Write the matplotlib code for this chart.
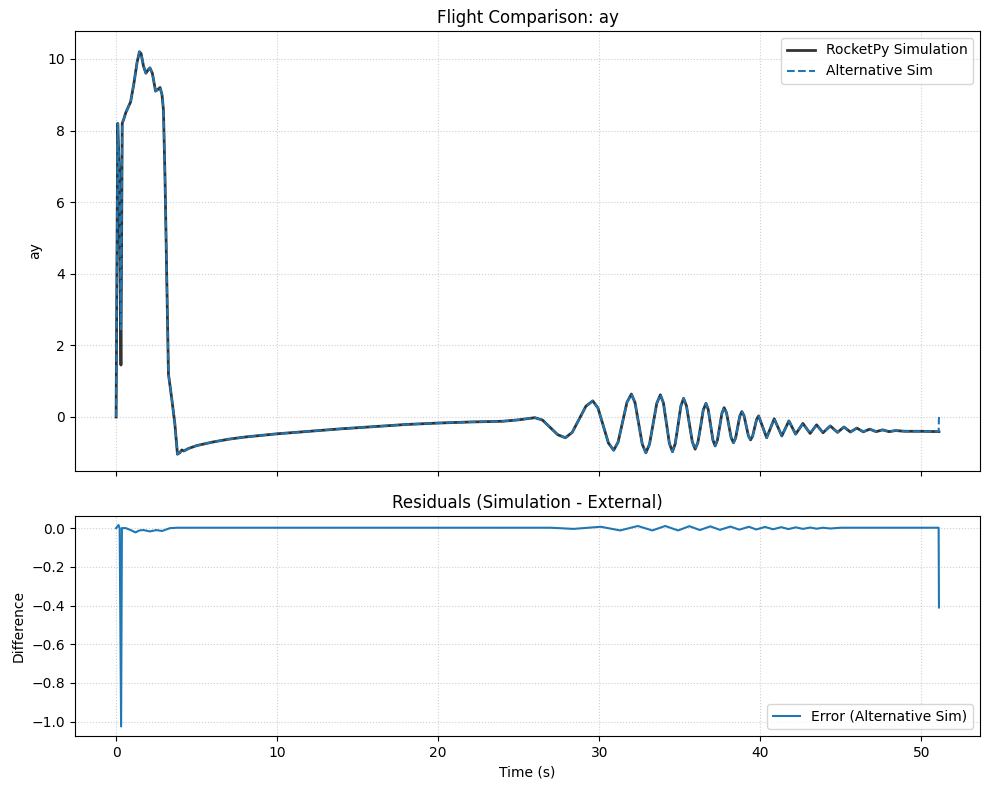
import matplotlib
matplotlib.use('Agg')
import matplotlib.pyplot as plt
import numpy as np

# flight time (s) and ay
t = [0.0, 0.1, 0.2, 0.3, 0.38, 0.5, 0.6, 0.9, 1.1, 1.3, 1.45, 1.55, 1.7, 1.85, 2.0, 2.1,
     2.25, 2.45, 2.6, 2.73, 2.85, 2.94, 3.04, 3.15, 3.25, 3.45, 3.65, 3.81, 3.95, 4.08, 4.2,
     4.5, 5.0, 6.0, 7.0, 8.0, 10.0, 12.0, 14.0, 16.0, 18.0, 20.0, 22.0, 24.0, 25.0, 26.0,
     26.475, 26.95, 27.425, 27.9, 28.325, 28.75, 29.175, 29.6, 29.925, 30.25, 30.575, 30.9,
     31.175, 31.45, 31.725, 32.0, 32.225, 32.45, 32.675, 32.9, 33.125, 33.35, 33.575, 33.8,
     33.99, 34.175, 34.36, 34.55, 34.72, 34.9, 35.07, 35.24, 35.42, 35.6, 35.78, 35.96,
     36.13, 36.3, 36.46, 36.63, 36.77, 36.915, 37.06, 37.2, 37.34, 37.48, 37.62, 37.76,
     37.905, 38.05, 38.195, 38.34, 38.47, 38.6, 38.73, 38.86, 38.995, 39.13, 39.265, 39.4,
     39.525, 39.65, 39.775, 39.9, 40.15, 40.4, 40.635, 40.87, 41.105, 41.34, 41.56, 41.78,
     41.99, 42.2, 42.425, 42.65, 42.875, 43.1, 43.3, 43.5, 43.7, 43.9, 44.125, 44.35, 44.575,
     44.8, 45.2, 45.6, 46.0, 46.4, 46.8, 47.2, 47.6, 48.0, 48.4, 49.0, 50.0, 51.08, 51.1]
ay_sim = [0.0, 8.2, 6.8, 1.45, 8.2, 8.35, 8.5, 8.8, 9.3, 9.9, 10.2, 10.15, 9.8, 9.6, 9.7, 9.75,
          9.6, 9.1, 9.15, 9.2, 9.0, 8.57, 6.6, 3.8, 1.2, 0.53, -0.2, -1.04, -1.0, -0.92, -0.95,
          -0.88, -0.8, -0.7, -0.62, -0.56, -0.47, -0.4, -0.33, -0.27, -0.21, -0.17, -0.14, -0.12, -0.08, -0.02,
          -0.085, -0.29, -0.495, -0.58, -0.43, -0.065, 0.30, 0.45, 0.25, -0.24, -0.73, -0.93,
          -0.70, -0.145, 0.41, 0.64, 0.40, -0.18, -0.76, -1.0, -0.76, -0.19, 0.38, 0.62,
          0.39, -0.175, -0.74, -0.97, -0.75, -0.225, 0.30, 0.52, 0.31, -0.19, -0.69, -0.9,
          -0.71, -0.26, 0.19, 0.38, 0.21, -0.215, -0.64, -0.81, -0.65, -0.275, 0.10, 0.26,
          0.12, -0.23, -0.58, -0.72, -0.59, -0.285, 0.02, 0.15, 0.035, -0.245, -0.525, -0.64,
          -0.54, -0.305, -0.07, 0.03, -0.275, -0.58, -0.315, -0.05, -0.29, -0.53, -0.32, -0.11,
          -0.295, -0.48, -0.33, -0.18, -0.32, -0.46, -0.34, -0.22, -0.33, -0.44, -0.345, -0.25, -0.34,
          -0.43, -0.28, -0.42, -0.31, -0.415, -0.34, -0.41, -0.36, -0.41, -0.38, -0.4, -0.4, -0.41, -0.41]
# where the alternative sim differs visibly
alt_fix_t = [0.3, 51.1]
alt_fix_v = [2.45, 0.0]

# residuals (simulation - external)
t_res = [0.0, 0.15, 0.22, 0.31, 0.36, 0.6, 0.9, 1.2, 1.45, 1.7, 2.1, 2.5, 2.85, 3.35, 3.8,
         27.0, 28.4, 30.1, 31.3, 32.4, 33.3, 34.1, 34.9, 35.6, 36.25, 36.9, 37.5, 38.15, 38.7,
         39.3, 39.75, 40.3, 40.8, 41.3, 41.75, 42.2, 42.65, 43.1, 43.5, 43.9, 44.35, 45.0, 51.08, 51.1]
res = [0.0, 0.016, 0.0, -1.025, 0.0, 0.0, -0.01, -0.022, -0.012, -0.01, -0.017, -0.01, -0.015, 0.0, 0.002,
       0.002, -0.004, 0.007, -0.012, 0.011, -0.012, 0.011, -0.012, 0.010, -0.010, 0.009, -0.009, 0.008, -0.008,
       0.007, -0.007, 0.006, -0.006, 0.005, -0.005, 0.004, -0.004, 0.003, -0.003, 0.002, -0.002, 0.002, 0.002, -0.41]

t = np.array(t)
ay_sim = np.array(ay_sim)
ay_alt = ay_sim.copy()
for ft, fv in zip(alt_fix_t, alt_fix_v):
    ay_alt[np.isclose(t, ft)] = fv

fig, (ax1, ax2) = plt.subplots(2, 1, figsize=(9.89, 7.9), sharex=True,
                               gridspec_kw={'height_ratios': [2, 1]})

ax1.plot(t, ay_sim, color='k', alpha=0.8, linewidth=2, label='RocketPy Simulation')
ax1.plot(t, ay_alt, '--', color='tab:blue', linewidth=1.5, label='Alternative Sim')
ax1.set_ylabel('ay')
ax1.set_title('Flight Comparison: ay')
ax1.set_ylim(-1.51, 10.78)
ax1.grid(True, linestyle=':', alpha=0.6)
ax1.legend(loc='upper right')

ax2.plot(t_res, res, color='tab:blue', linewidth=1.5, label='Error (Alternative Sim)')
ax2.set_title('Residuals (Simulation - External)')
ax2.set_xlabel('Time (s)')
ax2.set_ylabel('Difference')
ax2.set_ylim(-1.074, 0.063)
ax2.grid(True, linestyle=':', alpha=0.6)
ax2.legend(loc='lower right')

fig.subplots_adjust(left=0.0758, right=0.991, top=0.9608, bottom=0.0684, hspace=0.136)
plt.savefig('out.png', dpi=100)
